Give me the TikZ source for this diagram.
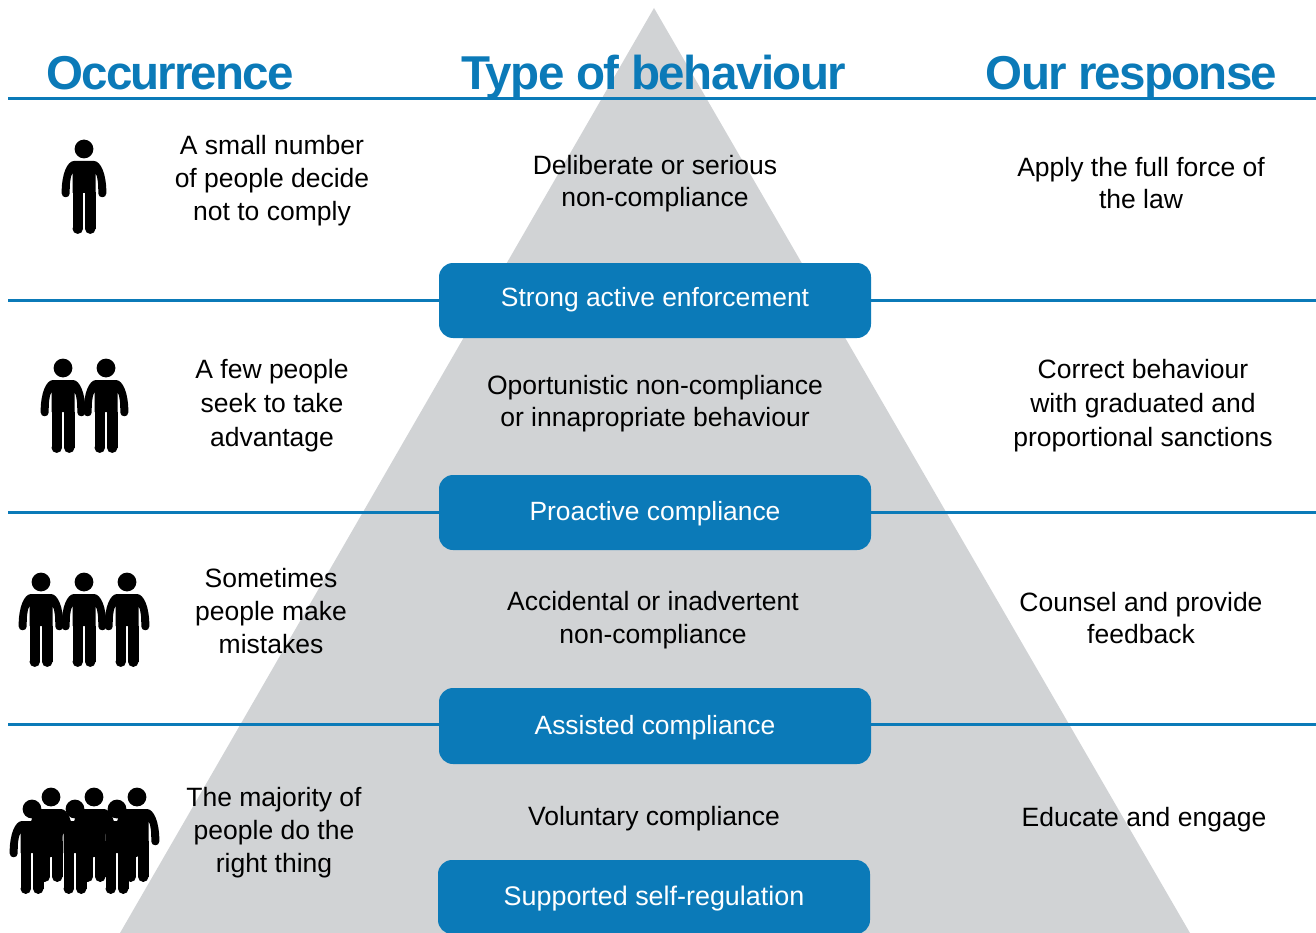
\documentclass[tikz,border=0pt]{standalone}
\usepackage{fontspec}
\setmainfont{Liberation Sans}
\definecolor{bl}{HTML}{0B7AB8}
\definecolor{gy}{HTML}{D1D3D5}
\newcommand{\lifted}[2]{\smash{\raisebox{#1}{#2}}}
\tikzset{
  x=1pt,y=-1pt,
  rule/.style={draw=bl,line width=3pt},
  band/.style={fill=bl,draw=none,rounded corners=14pt,minimum width=432pt,inner sep=0pt,text=white,text height=20pt,text depth=5.7pt,font=\fontsize{26.4}{33}\selectfont},
  head/.style={text=bl,font=\bfseries\fontsize{47.5}{50}\selectfont,inner sep=0pt,anchor=base},
  body/.style={align=center,text=black,inner sep=0pt,font=\fontsize{26.5}{33}\selectfont},
  man/.pic={
    \fill[black] (0,0) circle (9.4);
    \fill[black] (-10,12) -- (10,12) .. controls (17,12) and (22.3,26) .. (22.3,42)
      -- (22.3,44.5) .. controls (22.3,49.5) and (14.3,49.5) .. (14.3,44.5)
      .. controls (14.3,36) and (14,28) .. (11.5,24) -- (11.5,44) -- (-11.5,44) -- (-11.5,24)
      .. controls (-14,28) and (-14.3,36) .. (-14.3,44.5)
      .. controls (-14.3,49.5) and (-22.3,49.5) .. (-22.3,44.5)
      -- (-22.3,42) .. controls (-22.3,26) and (-17,12) .. (-10,12) -- cycle;
    \draw[black,line width=10.5pt,line cap=butt] (-6.25,43.5) -- (-6.25,79.7);
    \draw[black,line width=10.5pt,line cap=butt] (6.25,43.5) -- (6.25,79.7);
    \fill[black] (-6.25,79.7) circle (5.25);
    \fill[black] (6.25,79.7) circle (5.25);
  }
}
\begin{document}
\begin{tikzpicture}
\useasboundingbox (0,0) rectangle (1316,933);
\clip (0,0) rectangle (1316,933);
\fill[gy] (654,8) -- (1190,933) -- (120,933) -- cycle;
\coordinate (h1) at (8,99); \coordinate (h2) at (1316,99);
\draw[rule] (h1) -- (h2);
\node[head,font=\bfseries\fontsize{47.5}{50}\selectfont\addfontfeature{LetterSpace=-4}] (occ) at (170,89.5) {Occurrence};
\node[head,font=\bfseries\fontsize{47.5}{50}\selectfont\addfontfeature{LetterSpace=-3.2}] (typ) at (654,89.5) {Type of behaviour};
\node[head,font=\bfseries\fontsize{47.5}{50}\selectfont\addfontfeature{LetterSpace=-3.7}] (res) at (1131.5,89.5) {Our response};
\coordinate (a1) at (8,300); \coordinate (a2) at (1316,300);
\coordinate (b1) at (8,512); \coordinate (b2) at (1316,512);
\coordinate (c1) at (8,724); \coordinate (c2) at (1316,724);
\node[band,minimum height=75pt] (sb) at (655,300.5) {\lifted{1pt}{Strong active enforcement}};
\node[band,minimum height=75pt] (pb) at (655,512.5) {\lifted{-1pt}{Proactive compliance}};
\node[band,minimum height=76pt] (ab) at (655,726) {\lifted{-1pt}{Assisted compliance}};
\node[band,minimum height=74pt,font=\fontsize{26.9}{33}\selectfont] (vb) at (654,897) {\lifted{-1pt}{Supported self-regulation}};
\draw[rule] (a1) -- (a1 -| sb.west) (a2 -| sb.east) -- (a2);
\draw[rule] (b1) -- (b1 -| pb.west) (b2 -| pb.east) -- (b2);
\draw[rule] (c1) -- (c1 -| ab.west) (c2 -| ab.east) -- (c2);
\node[body] (t1) at (272,181) {A small number\\of people decide\\not to comply};
\node[body] (t2) at (272,406) {A few people\\[1pt]seek to take\\[1pt]advantage};
\node[body] (t3) at (271,611) {Sometimes\\people make\\mistakes};
\node[body] (t4) at (274,833) {The majority of\\people do the\\right thing};
\node[body] (m1) at (655,184) {Deliberate or serious\\[-1pt]non-compliance};
\node[body] (m2) at (655,404) {Oportunistic non-compliance\\[-1pt]or innapropriate behaviour};
\node[body] (m3) at (653,620) {Accidental or inadvertent\\non-compliance};
\node[body] (m4) at (654,819) {Voluntary compliance};
\node[body] (r1) at (1141,183) {Apply the full force of\\[-1pt]the law};
\node[body] (r2) at (1143,406) {Correct behaviour\\[1pt]with graduated and\\[1pt]proportional sanctions};
\node[body] (r3) at (1141,618.5) {Counsel and provide\\[-1pt]feedback};
\node[body] (r4) at (1144,820) {Educate and engage};
\pic at (84,149) {man};
\pic at (63,368) {man};
\pic at (106,368) {man};
\pic at (41,582) {man};
\pic at (84,582) {man};
\pic at (127,582) {man};
\pic at (51,797) {man};
\pic at (94,797) {man};
\pic at (137,797) {man};
\pic at (32,809) {man};
\pic at (75,809) {man};
\pic at (117,809) {man};
\end{tikzpicture}
\end{document}
